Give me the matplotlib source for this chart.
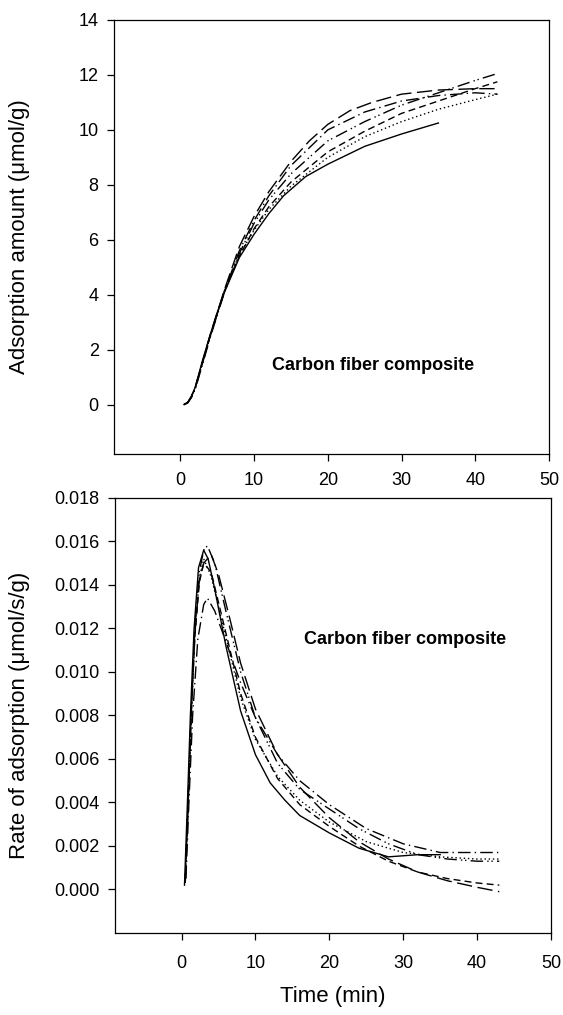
import numpy as np
import matplotlib
matplotlib.use("Agg")
import matplotlib.pyplot as plt

plt.rcParams['font.family'] = ['Liberation Sans', 'DejaVu Sans']

# adsorption amount (umol/g) vs time (min)
t_a_solid = [0.5, 1, 1.5, 2, 3, 4, 5, 6, 8, 10, 12, 14, 17, 20, 25, 30, 35]
q_a_solid = [0, 0.08, 0.3, 0.62, 1.6, 2.5, 3.35, 4.1, 5.35, 6.2, 6.95, 7.6, 8.3, 8.75, 9.4, 9.85, 10.25]

t_a_dot = [0.5, 1, 1.5, 2, 3, 4, 5, 6, 8, 10, 12, 15, 20, 25, 30, 35, 40, 43]
q_a_dot = [0, 0.06, 0.28, 0.58, 1.55, 2.45, 3.3, 4.15, 5.45, 6.35, 7.1, 7.95, 9.0, 9.75, 10.3, 10.75, 11.1, 11.3]

t_a_dash = [0.5, 1, 1.5, 2, 3, 4, 5, 6, 8, 10, 12, 15, 20, 25, 30, 35, 40, 43]
q_a_dash = [0, 0.07, 0.3, 0.6, 1.55, 2.45, 3.3, 4.15, 5.4, 6.4, 7.2, 8.1, 9.2, 9.95, 10.6, 11.05, 11.5, 11.75]

t_a_long = [0.5, 1, 1.5, 2, 3, 4, 5, 6, 8, 10, 12, 15, 17.5, 20, 23, 26, 30, 35, 40, 43]
q_a_long = [0, 0.08, 0.3, 0.6, 1.55, 2.5, 3.35, 4.2, 5.75, 6.85, 7.75, 8.85, 9.6, 10.2, 10.7, 11.0, 11.3, 11.45, 11.5, 11.5]

t_a_dd = [0.5, 1, 1.5, 2, 3, 4, 5, 6, 8, 10, 12, 15, 20, 25, 30, 35, 40, 43]
q_a_dd = [0, 0.07, 0.28, 0.58, 1.5, 2.45, 3.3, 4.15, 5.6, 6.7, 7.6, 8.7, 10.0, 10.65, 11.05, 11.25, 11.35, 11.3]

t_a_ddd = [0.5, 1, 1.5, 2, 3, 4, 5, 6, 8, 10, 12, 15, 20, 25, 30, 35, 40, 43]
q_a_ddd = [0, 0.06, 0.25, 0.55, 1.45, 2.4, 3.25, 4.1, 5.5, 6.6, 7.45, 8.4, 9.6, 10.3, 10.9, 11.35, 11.8, 12.05]

# rate of adsorption (umol/s/g) vs time (min)
t_r_solid = [0.4, 0.8, 1.2, 1.7, 2.3, 3.0, 3.6, 4.5, 6, 8, 10, 12, 14, 16, 18, 20, 24, 28, 32, 35]
r_r_solid = [0.0002, 0.004, 0.008, 0.012, 0.0148, 0.0156, 0.0152, 0.0138, 0.0112, 0.0082, 0.0062,
             0.0049, 0.0041, 0.0034, 0.0030, 0.0026, 0.0019, 0.0015, 0.0016, 0.0016]

t_r_dot = [0.5, 0.9, 1.3, 1.8, 2.4, 3.0, 4, 6, 8, 10, 13, 16, 20, 25, 30, 35, 40, 43]
r_r_dot = [0.0003, 0.004, 0.008, 0.0118, 0.0143, 0.0152, 0.0144, 0.0116, 0.0088, 0.0069, 0.0052,
           0.0041, 0.0031, 0.0022, 0.0017, 0.0015, 0.0014, 0.0014]

t_r_dash = [0.5, 0.9, 1.3, 1.8, 2.4, 3.0, 4, 6, 8, 10, 13, 16, 20, 24, 28, 32, 36, 40, 43]
r_r_dash = [0.0004, 0.004, 0.008, 0.0116, 0.0141, 0.0150, 0.0146, 0.0118, 0.0090, 0.0070, 0.0051,
            0.0039, 0.0029, 0.0020, 0.0013, 0.0008, 0.0005, 0.0003, 0.0002]

t_r_long = [0.5, 0.9, 1.3, 1.8, 2.4, 3.0, 4, 5, 6.5, 8, 10, 13, 16, 20, 24, 28, 32, 36, 40, 43]
r_r_long = [0.0003, 0.004, 0.008, 0.0117, 0.0142, 0.0150, 0.0154, 0.0145, 0.0125, 0.0104, 0.0083,
            0.0062, 0.0047, 0.0033, 0.0022, 0.0014, 0.0008, 0.0004, 0.0001, -0.0001]

t_r_dd = [0.6, 1.0, 1.5, 2.2, 3.0, 3.5, 4.5, 6, 8, 10, 13, 16, 20, 25, 30, 35, 40, 43]
r_r_dd = [0.0005, 0.004, 0.008, 0.0115, 0.0131, 0.0134, 0.0128, 0.0114, 0.0095, 0.0079, 0.0062,
          0.0050, 0.0039, 0.0028, 0.0021, 0.0017, 0.0017, 0.0017]

t_r_ddd = [0.5, 0.9, 1.3, 1.8, 2.4, 3.0, 3.5, 4.5, 6, 8, 10, 13, 16, 20, 24, 28, 32, 36, 40, 43]
r_r_ddd = [0.0003, 0.004, 0.008, 0.012, 0.0146, 0.0156, 0.0158, 0.0150, 0.0128, 0.0100, 0.0079,
           0.0058, 0.0046, 0.0037, 0.0028, 0.0021, 0.0016, 0.0014, 0.0013, 0.0013]

styles = {
    'solid': '-',
    'dot': (0, (1, 2)),
    'dash': (0, (5, 3)),
    'long': (0, (11, 4)),
    'dd': (0, (9, 3, 1, 3)),
    'ddd': (0, (9, 3, 1, 2, 1, 3)),
}

fig = plt.figure(figsize=(5.63, 10.15), dpi=100)
ax1 = fig.add_axes([0.2025, 0.5527, 0.7726, 0.4276])
ax2 = fig.add_axes([0.2043, 0.0808, 0.7744, 0.4286])

ax1.plot(t_a_solid, q_a_solid, color='k', lw=1.0, linestyle=styles['solid'])
ax1.plot(t_a_dot, q_a_dot, color='k', lw=1.0, linestyle=styles['dot'])
ax1.plot(t_a_dash, q_a_dash, color='k', lw=1.0, linestyle=styles['dash'])
ax1.plot(t_a_long, q_a_long, color='k', lw=1.0, linestyle=styles['long'])
ax1.plot(t_a_dd, q_a_dd, color='k', lw=1.0, linestyle=styles['dd'])
ax1.plot(t_a_ddd, q_a_ddd, color='k', lw=1.0, linestyle=styles['ddd'])

ax2.plot(t_r_solid, r_r_solid, color='k', lw=1.0, linestyle=styles['solid'])
ax2.plot(t_r_dot, r_r_dot, color='k', lw=1.0, linestyle=styles['dot'])
ax2.plot(t_r_dash, r_r_dash, color='k', lw=1.0, linestyle=styles['dash'])
ax2.plot(t_r_long, r_r_long, color='k', lw=1.0, linestyle=styles['long'])
ax2.plot(t_r_dd, r_r_dd, color='k', lw=1.0, linestyle=styles['dd'])
ax2.plot(t_r_ddd, r_r_ddd, color='k', lw=1.0, linestyle=styles['ddd'])

ax1.set_xlim(-9, 50)
ax1.set_ylim(-1.8, 14)
ax1.set_xticks(np.arange(0, 51, 10))
ax1.set_yticks(np.arange(0, 15, 2))
ax1.set_ylabel('Adsorption amount (\u03bcmol/g)', fontsize=16)
ax1.yaxis.set_label_coords(-0.192, 0.5)
ax1.text(26.1, 1.44, 'Carbon fiber composite', fontsize=13, fontweight='bold',
         ha='center', va='center')

ax2.set_xlim(-9, 50)
ax2.set_ylim(-0.002, 0.018)
ax2.set_xticks(np.arange(0, 51, 10))
ax2.set_yticks(np.arange(0, 0.0181, 0.002))
ax2.set_yticklabels(['%.3f' % v for v in np.arange(0, 0.0181, 0.002)])
ax2.set_ylabel('Rate of adsorption (\u03bcmol/s/g)', fontsize=16)
ax2.yaxis.set_label_coords(-0.194, 0.5)
ax2.set_xlabel('Time (min)', fontsize=16, labelpad=10)
ax2.text(30.3, 0.01147, 'Carbon fiber composite', fontsize=13, fontweight='bold',
         ha='center', va='center')

for ax in (ax1, ax2):
    ax.tick_params(direction='out', length=5, width=0.9, labelsize=13)
    ax.tick_params(axis='y', pad=6)
    for s in ax.spines.values():
        s.set_linewidth(0.9)
ax1.tick_params(axis='x', pad=8)
ax2.tick_params(axis='x', pad=11)

fig.savefig('out.png', dpi=100)
